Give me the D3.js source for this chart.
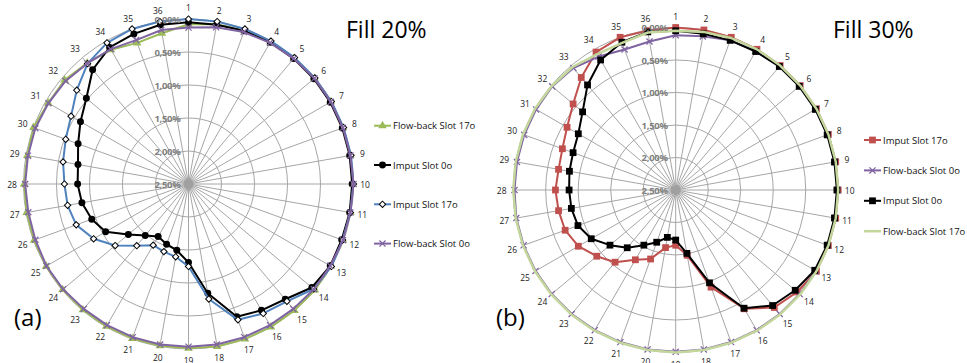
<!DOCTYPE html>
<html>
<head>
<meta charset="utf-8">
<script src="https://cdn.jsdelivr.net/npm/d3@7"></script>
<style>
  html, body { margin: 0; padding: 0; background: #fff; }
  svg { display: block; }
  text { font-family: "Open Sans", "Liberation Sans", sans-serif; }
</style>
</head>
<body>
<svg id="chart" width="967" height="363"></svg>
<script>
// ---------- DATA ----------
const categories = ["1","2","3","4","5","6","7","8","9","10","11","12","13","14","15","16","17","18",
                    "19","20","21","22","23","24","25","26","27","28","29","30","31","32","33","34","35","36"];
const tickValues = [0, 0.5, 1, 1.5, 2, 2.5];
const tickLabels = ["0,00%","0,50%","1,00%","1,50%","2,00%","2,50%"];

// Panel (a) Fill 20%  (values in %)
const aFlowBack17 = [0.08,0.04,0.03,0.02,0.02,0.01,0.01,0.01,0.01,0.01,0.01,0.01,0.01,0.00,0.00,0.00,0.00,0.00,
                     0.01,0.01,0.01,0.01,0.01,0.01,0.01,0.01,0.01,0.01,0.02,0.00,0.045,0.05,0.11,0.15,0.225,0.18];
const aImput0     = [0.05,0.05,0.03,0.02,0.02,0.02,0.02,0.02,0.02,0.02,0.02,0.03,0.02,0.06,0.22,0.29,0.36,0.82,
                     1.31,1.48,1.53,1.58,1.48,1.31,1.05,0.94,0.86,0.82,0.80,0.72,0.61,0.48,0.24,0.11,0.08,0.05];
const aImput17    = [0.00,0.00,0.00,0.00,0.00,0.00,0.00,0.00,0.00,0.00,0.01,0.015,0.00,0.025,0.18,0.235,0.31,0.73,
                     1.25,1.38,1.41,1.43,1.28,1.05,0.84,0.69,0.64,0.62,0.57,0.52,0.445,0.29,0.12,0.03,0.00,0.00];
const aFlowBack0  = [0.13,0.09,0.05,0.03,0.02,0.01,0.01,0.01,0.01,0.00,0.01,0.01,0.02,0.02,0.03,0.03,0.03,0.03,
                     0.035,0.03,0.03,0.03,0.03,0.02,0.015,0.03,0.035,0.025,0.03,0.03,0.05,0.07,0.115,0.14,0.18,0.13];

// Panel (b) Fill 30%
const bImput17    = [0.00,0.00,0.00,0.00,0.00,0.00,0.00,0.00,0.00,0.00,0.00,0.00,0.00,0.06,0.14,0.39,0.91,1.48,
                     1.65,1.60,1.37,1.26,1.05,0.915,0.77,0.69,0.67,0.65,0.67,0.645,0.57,0.44,0.24,0.05,0.00,0.01];
const bFlowBack0  = [0.12,0.10,0.05,0.03,0.02,0.01,0.01,0.01,0.01,0.01,0.01,0.01,0.01,0.01,0.01,0.01,0.01,0.01,
                     0.01,0.01,0.01,0.01,0.01,0.01,0.01,0.01,0.01,0.02,0.02,0.02,0.02,0.02,0.05,0.13,0.20,0.18];
const bImput0     = [0.05,0.06,0.05,0.04,0.02,0.02,0.02,0.02,0.02,0.02,0.02,0.02,0.03,0.10,0.18,0.40,0.98,1.51,
                     1.73,1.76,1.645,1.52,1.34,1.18,1.00,0.90,0.87,0.86,0.84,0.82,0.77,0.63,0.39,0.19,0.08,0.03];
const bFlowBack17 = [0.05,0.03,0.01,0.00,0.00,0.00,0.00,0.00,0.00,0.00,0.00,0.00,0.00,0.00,0.00,0.00,0.00,0.00,
                     0.00,0.00,0.00,0.00,0.00,0.00,0.00,0.00,0.00,0.00,0.00,0.00,0.00,0.01,0.03,0.085,0.09,0.04];

// ---------- DRAW ----------
const svg = d3.select("#chart");
const N = categories.length;
const angle = d3.scaleLinear().domain([0, N]).range([0, 2 * Math.PI]);

function drawRadar(opt) {
  const g = svg.append("g").attr("transform", `translate(${opt.cx},${opt.cy})`);
  const r = d3.scaleLinear().domain([0, 2.5]).range([opt.R, 0]);
  const grid = "#a6a6a6";

  g.selectAll("circle.ring").data(tickValues.slice(0, -1)).join("circle")
    .attr("r", d => r(d)).attr("fill", "none").attr("stroke", grid).attr("stroke-width", 1);
  g.selectAll("line.spoke").data(categories).join("line")
    .attr("x1", 0).attr("y1", 0)
    .attr("x2", (d, i) => Math.sin(angle(i)) * r(0))
    .attr("y2", (d, i) => -Math.cos(angle(i)) * r(0))
    .attr("stroke", grid).attr("stroke-width", 1);
  g.append("circle").attr("r", 5).attr("fill", "#a0a0a0");

  g.selectAll("text.cat").data(categories).join("text")
    .attr("x", (d, i) => Math.sin(angle(i)) * (r(0) + 11.5))
    .attr("y", (d, i) => -Math.cos(angle(i)) * (r(0) + 11.5))
    .attr("text-anchor", "middle").attr("dominant-baseline", "central")
    .attr("font-size", 8.5).attr("fill", "#222").text(d => d);

  const line = d3.lineRadial().angle((d, i) => angle(i)).radius(d => r(d)).curve(d3.curveLinearClosed);
  opt.series.forEach(s => {
    const sg = g.append("g");
    sg.append("path").attr("d", line(s.values)).attr("fill", "none")
      .attr("stroke", s.color).attr("stroke-width", s.width || 2).attr("stroke-linejoin", "round");
    if (s.symbol) {
      sg.selectAll("path.m").data(s.values).join("path")
        .attr("transform", (d, i) => `translate(${Math.sin(angle(i)) * r(d)},${-Math.cos(angle(i)) * r(d)}) rotate(${s.rot || 0})`)
        .attr("d", d3.symbol().type(s.symbol).size(s.size))
        .attr("fill", s.fill).attr("stroke", s.mstroke || "none").attr("stroke-width", s.msw || 1);
    }
  });

  g.selectAll("text.tick").data(tickValues).join("text")
    .attr("x", -8).attr("y", d => -r(d))
    .attr("text-anchor", "end").attr("dominant-baseline", "central")
    .attr("font-size", 9.5).attr("font-weight", "bold").attr("fill", "#808080")
    .attr("letter-spacing", -0.3)
    .text((d, i) => tickLabels[i]);

  svg.append("text").attr("x", opt.titleX).attr("y", 38).attr("font-size", 23).attr("fill", "#000").text(opt.title);
  svg.append("text").attr("x", opt.panelX).attr("y", 326).attr("font-size", 24).attr("fill", "#000").text(opt.panel);

  const lg = svg.append("g");
  opt.legend.forEach((s, k) => {
    const y = opt.legY + k * opt.legStep;
    lg.append("line").attr("x1", opt.legX).attr("x2", opt.legX + 17).attr("y1", y).attr("y2", y)
      .attr("stroke", s.color).attr("stroke-width", s.width || 2);
    if (s.symbol) {
      lg.append("path").attr("transform", `translate(${opt.legX + 8.5},${y}) rotate(${s.rot || 0})`)
        .attr("d", d3.symbol().type(s.symbol).size(s.size))
        .attr("fill", s.fill).attr("stroke", s.mstroke || "none").attr("stroke-width", s.msw || 1);
    }
    lg.append("text").attr("x", opt.legX + 19).attr("y", y).attr("dominant-baseline", "central")
      .attr("font-size", 9.5).attr("fill", "#111").text(s.name);
  });
}

const sA = {
  green:  { name: "Flow-back Slot 17o", values: aFlowBack17, color: "#9BBB59", symbol: d3.symbolTriangle, size: 32, fill: "#9BBB59" },
  black:  { name: "Imput Slot 0o",      values: aImput0,     color: "#000000", symbol: d3.symbolCircle,   size: 38, fill: "#000000" },
  blue:   { name: "Imput Slot 17o",     values: aImput17,    color: "#4F81BD", symbol: d3.symbolSquare,   size: 20, rot: 45, fill: "#ffffff", mstroke: "#000", msw: 1 },
  purple: { name: "Flow-back Slot 0o",  values: aFlowBack0,  color: "#8064A2", symbol: d3.symbolX,        size: 26, fill: "none", mstroke: "#8064A2", msw: 1.3 }
};
drawRadar({
  cx: 188.5, cy: 184, R: 165,
  series: [sA.green, sA.black, sA.blue, sA.purple],
  legend: [sA.green, sA.black, sA.blue, sA.purple],
  legX: 374, legY: 125.7, legStep: 39.3,
  title: "Fill 20%", titleX: 346, panel: "(a)", panelX: 14
});

const sB = {
  red:    { name: "Imput Slot 17o",     values: bImput17,    color: "#C0504D", symbol: d3.symbolSquare, size: 46, fill: "#C0504D" },
  purple: { name: "Flow-back Slot 0o",  values: bFlowBack0,  color: "#8064A2", symbol: d3.symbolX,      size: 26, fill: "none", mstroke: "#8064A2", msw: 1.3 },
  black:  { name: "Imput Slot 0o",      values: bImput0,     color: "#000000", symbol: d3.symbolSquare, size: 46, fill: "#000000" },
  green:  { name: "Flow-back Slot 17o", values: bFlowBack17, color: "#C3D69B", width: 2.5 }
};
drawRadar({
  cx: 675.7, cy: 190, R: 162.5,
  series: [sB.red, sB.purple, sB.black, sB.green],
  legend: [sB.red, sB.purple, sB.black, sB.green],
  legX: 864, legY: 140, legStep: 30.4,
  title: "Fill 30%", titleX: 833, panel: "(b)", panelX: 496
});
</script>
</body>
</html>
